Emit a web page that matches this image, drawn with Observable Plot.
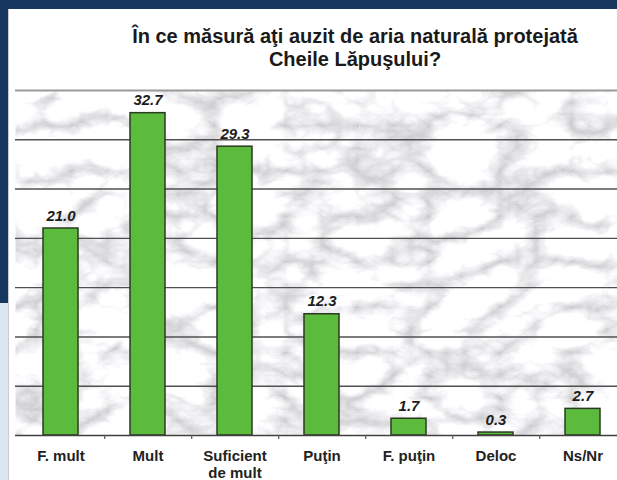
<!DOCTYPE html>
<html>
<head>
<meta charset="utf-8">
<script src="https://cdn.jsdelivr.net/npm/d3@7"></script>
<script src="https://cdn.jsdelivr.net/npm/@observablehq/plot@0.6"></script>
<style>
  html, body { margin: 0; padding: 0; width: 617px; height: 480px; overflow: hidden; background: #17375e; position: relative; }
  #lowstrip { position: absolute; left: 0; top: 303px; width: 8px; height: 177px; background: #dce6f1; }
  #panel { position: absolute; left: 8px; top: 9px; width: 640px; height: 480px; background: #ffffff; border-left: 1px solid #c8ccd2; }
  #title { position: absolute; left: 55px; top: 25px; width: 600px; text-align: center;
           font-family: "Liberation Sans", Arial, sans-serif; font-weight: bold; font-size: 20px; line-height: 23px; color: #1a1a1a; }
  #chart { position: absolute; left: 0; top: 80px; width: 640px; }
  #chart svg { max-width: none !important; }
</style>
</head>
<body>
<div id="lowstrip"></div>
<div id="panel"></div>
<div id="title">În ce măsură aţi auzit de aria naturală protejată<br>Cheile Lăpuşului?</div>
<div id="chart"></div>
<script>
const categories = ["F. mult", "Mult", "Suficient\nde mult", "Puţin", "F. puţin", "Deloc", "Ns/Nr"];
const values = [21.0, 32.7, 29.3, 12.3, 1.7, 0.3, 2.7];
const valueLabels = ["21.0", "32.7", "29.3", "12.3", "1.7", "0.3", "2.7"];
const gridTicks = [5, 10, 15, 20, 25, 30];
const yMax = 35;

const data = categories.map((c, i) => ({cat: c, v: values[i], label: valueLabels[i]}));

const W = 640, H = 400, ML = 15, MR = 13, MT = 10, MB = 45;
const step = (W - ML - MR) / categories.length;
const boundaries = categories.slice(0, -1);

const plot = Plot.plot({
  width: W, height: H,
  marginLeft: ML, marginRight: MR, marginTop: MT, marginBottom: MB,
  style: {fontFamily: "'Liberation Sans', Arial, sans-serif", fontSize: "15px", fontWeight: "bold", color: "#222", background: "transparent", overflow: "visible", maxWidth: "none"},
  x: {domain: categories, padding: 0.6, paddingOuter: 0.3, label: null},
  y: {domain: [0, yMax], axis: null},
  marks: [
    Plot.frame({fill: "#e9e9eb"}),
    Plot.ruleY(gridTicks, {stroke: "#505050", strokeWidth: 1.4}),
    Plot.ruleY([yMax], {stroke: "#9a9a9a", strokeWidth: 2}),
    Plot.barY(data, {x: "cat", y: "v", fill: "#5cba3c", stroke: "#2b3a22", strokeWidth: 1.5}),
    Plot.text(data, {x: "cat", y: "v", text: "label", dy: -8, lineAnchor: "bottom",
      fontSize: 15, fontWeight: "bold", fontStyle: "italic", fill: "#1c1c1c", letterSpacing: "0.5px"}),
    Plot.ruleY([0], {stroke: "#404040", strokeWidth: 1.6}),
    Plot.ruleX(boundaries, {x: d => d, y1: 0, y2: 0, insetBottom: -4, dx: step / 2, stroke: "#555", strokeWidth: 1.2}),
    Plot.axisX({tickSize: 0, tickPadding: 13, fontWeight: "bold", fontSize: 15, lineHeight: 1.15, fill: "#222", label: null})
  ]
});

plot.style.maxWidth = "none";
document.getElementById("chart").appendChild(plot);

const svg = d3.select(plot);
const defs = svg.insert("defs", ":first-child");
const f = defs.append("filter").attr("id", "marble")
  .attr("x", 0).attr("y", 0).attr("width", "100%").attr("height", "100%")
  .attr("filterUnits", "objectBoundingBox")
  .attr("color-interpolation-filters", "sRGB");
f.append("feTurbulence").attr("type", "turbulence").attr("baseFrequency", "0.014 0.022")
  .attr("numOctaves", 5).attr("seed", 11).attr("result", "n");
f.append("feColorMatrix").attr("in", "n").attr("type", "matrix")
  .attr("values", "0.55 0 0 0 0.79  0.55 0 0 0 0.79  0.55 0 0 0 0.80  0 0 0 0 1").attr("result", "g");
f.append("feComposite").attr("in", "g").attr("in2", "SourceGraphic").attr("operator", "in");

// apply the marble texture to the frame drawn by Plot.frame
svg.selectAll("[aria-label=frame]").each(function() {
  const el = d3.select(this);
  if (this.tagName.toLowerCase() === "rect") el.attr("filter", "url(#marble)");
  else el.selectAll("rect").attr("filter", "url(#marble)");
});
</script>
</body>
</html>
